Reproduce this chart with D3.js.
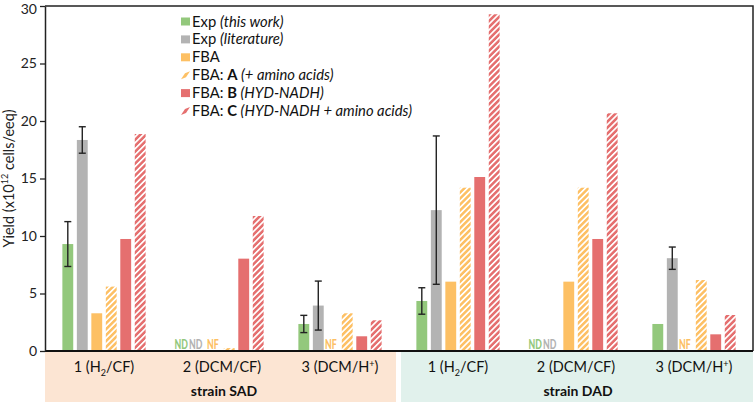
<!DOCTYPE html>
<html><head><meta charset="utf-8">
<script src="https://cdn.jsdelivr.net/npm/d3@7"></script>
<style>
html,body{margin:0;padding:0;background:#fff;}
svg{display:block;font-family:Lato,"Open Sans",sans-serif;}
</style></head>
<body>
<svg id="chart" width="755" height="402"></svg>
<script>
// ---- data ----
const groups = ["SAD-1","SAD-2","SAD-3","DAD-1","DAD-2","DAD-3"];
const groupLabels = [["1 (H","2","/CF)","sub"],["2 (DCM/CF)","","",""],["3 (DCM/H","+",")","sup"],
                     ["1 (H","2","/CF)","sub"],["2 (DCM/CF)","","",""],["3 (DCM/H","+",")","sup"]];
const strains = ["strain SAD","strain DAD"];
const seriesKeys = ["expThis","expLit","fba","fbaA","fbaB","fbaC"];
const expThis    = [9.3, null, 2.35, 4.35, null, 2.35];
const expThisErr = [1.95, null, 0.75, 1.15, null, 0];
const expLit     = [18.35, null, 3.95, 12.25, null, 8.07];
const expLitErr  = [1.15, null, 2.13, 6.45, null, 0.97];
const fba        = [3.28, null, null, 6.03, 6.03, null];
const fbaA       = [5.6, 0.25, 3.28, 14.2, 14.2, 6.17];
const fbaB       = [9.74, 8.03, 1.28, 15.13, 9.74, 1.45];
const fbaC       = [18.87, 11.74, 2.67, 29.28, 20.67, 3.13];
const notes = { expThis:["","ND","","","ND",""], expLit:["","ND","","","ND",""], fba:["","NF","NF","","","NF"] };
const yTicks = [0,5,10,15,20,25,30];

const seriesValues = {expThis, expLit, fba, fbaA, fbaB, fbaC};
const seriesErr = {expThis: expThisErr, expLit: expLitErr};
const colors = {expThis:"#93c87c", expLit:"#b3b3b3", fba:"#fdc064", fbaA:"#fdc064", fbaB:"#e56f6f", fbaC:"#e56f6f"};
const hatched = {fbaA:true, fbaC:true};
const legendItems = [
  {key:"expThis", parts:[["Exp ",""],["(this work)","i"]]},
  {key:"expLit", parts:[["Exp ",""],["(literature)","i"]]},
  {key:"fba", parts:[["FBA",""]]},
  {key:"fbaA", parts:[["FBA: ",""],["A","b"],[" (+ amino acids)","i"]]},
  {key:"fbaB", parts:[["FBA: ",""],["B","b"],[" (HYD-NADH)","i"]]},
  {key:"fbaC", parts:[["FBA: ",""],["C","b"],[" (HYD-NADH + amino acids)","i"]]}
];

// ---- layout ----
const svg = d3.select("#chart");
const L = 45, R = 753, T = 6, B = 351;
const x0 = d3.scaleBand().domain(groups).range([L, R]).paddingInner(0).paddingOuter(0);
const x1 = d3.scaleBand().domain(seriesKeys).range([0, x0.bandwidth()]).paddingInner(0.25).paddingOuter(1.2);
const y = d3.scaleLinear().domain([0, 30]).range([B, T]);

// patterns
const defs = svg.append("defs");
["fbaA","fbaC"].forEach(k=>{
  const p = defs.append("pattern").attr("id","hatch-"+k).attr("patternUnits","userSpaceOnUse")
    .attr("width",4.2).attr("height",4.2).attr("patternTransform","rotate(45)");
  p.append("rect").attr("width",4.2).attr("height",4.2).attr("fill",colors[k]);
  p.append("rect").attr("x",0).attr("width",1.7).attr("height",4.2).attr("fill","#fff");
});

// bottom bands
const bandData = [{s:strains[0], g:groups.slice(0,3), fill:"#fce5d3"},{s:strains[1], g:groups.slice(3), fill:"#e1f1ec"}];
bandData.forEach((b,i)=>{
  const x_a = x0(b.g[0]) + (i===0?0:2);
  const x_b = x0(b.g[2]) + x0.bandwidth() - (i===0?3:0);
  svg.append("rect").attr("x",x_a).attr("y",B).attr("width",x_b-x_a).attr("height",402-B).attr("fill",b.fill);
  svg.append("text").attr("x",(x0(b.g[0])+x0(b.g[2])+x0.bandwidth())/2 + 2).attr("y",396)
    .attr("text-anchor","middle").attr("font-size",14).attr("font-weight","bold").attr("fill","#111").text(b.s);
});

// group labels
groups.forEach((g,i)=>{
  const lab = groupLabels[i];
  const t = svg.append("text").attr("x", x0(g)+x0.bandwidth()/2).attr("y",372)
    .attr("text-anchor","middle").attr("font-size",14.5).attr("fill","#111");
  t.append("tspan").text(lab[0]);
  if (lab[1]) {
    t.append("tspan").attr("font-size",9).attr("dy", lab[3]==="sub"?4:-5).text(lab[1]);
    t.append("tspan").attr("dy", lab[3]==="sub"?-4:5).text(lab[2]);
  }
});

// bars
const gGroups = svg.append("g").selectAll("g").data(groups).join("g")
  .attr("transform", d=>`translate(${x0(d)},0)`);
seriesKeys.forEach(k=>{
  gGroups.each(function(g,i){
    const v = seriesValues[k][i];
    if (v==null) return;
    d3.select(this).append("rect")
      .attr("x", x1(k)).attr("width", x1.bandwidth())
      .attr("y", y(v)).attr("height", y(0)-y(v))
      .attr("fill", hatched[k] ? `url(#hatch-${k})` : colors[k]);
  });
});
// error bars
Object.keys(seriesErr).forEach(k=>{
  gGroups.each(function(g,i){
    const v = seriesValues[k][i], e = seriesErr[k][i];
    if (v==null || !e) return;
    const cx = x1(k)+x1.bandwidth()/2;
    const gg = d3.select(this).append("g").attr("stroke","#222").attr("stroke-width",1.4);
    gg.append("line").attr("x1",cx).attr("x2",cx).attr("y1",y(v+e)).attr("y2",y(v-e));
    gg.append("line").attr("x1",cx-3.5).attr("x2",cx+3.5).attr("y1",y(v+e)).attr("y2",y(v+e));
    gg.append("line").attr("x1",cx-3.5).attr("x2",cx+3.5).attr("y1",y(v-e)).attr("y2",y(v-e));
  });
});
// ND / NF notes (condensed via horizontal scaling)
Object.keys(notes).forEach(k=>{
  gGroups.each(function(g,i){
    const n = notes[k][i];
    if (!n) return;
    const cx = x1(k)+x1.bandwidth()/2 + (n==="ND"?-4.5:-2);
    d3.select(this).append("g").attr("transform",`translate(${cx},${B-2.5}) scale(0.7,1)`)
      .append("text").attr("x",0).attr("y",0).attr("text-anchor","middle")
      .attr("font-size",12.5).attr("font-weight","900").attr("fill",colors[k]).text(n);
  });
});

// frame
svg.append("path").attr("d",`M${L},${T}H${R}V${B}`).attr("fill","none").attr("stroke","#222").attr("stroke-width",1.5);
svg.append("line").attr("x1",L).attr("x2",R).attr("y1",B).attr("y2",B).attr("stroke","#111").attr("stroke-width",1.8);

// y axis
const ax = svg.append("g").attr("transform",`translate(${L},0)`)
  .call(d3.axisLeft(y).tickValues(yTicks).tickSize(5).tickSizeOuter(0).tickPadding(3));
ax.select(".domain").attr("stroke","#222").attr("stroke-width",1.5);
ax.selectAll(".tick line").attr("stroke","#222").attr("stroke-width",1.3);
ax.selectAll(".tick text").attr("font-size",14).attr("fill","#222").attr("font-family","Lato,sans-serif");
ax.selectAll(".tick text").filter(d=>d===30).attr("dy","0.5em");

// y title
const yt = svg.append("text").attr("transform",`translate(14,${(T+B)/2}) rotate(-90)`)
  .attr("text-anchor","middle").attr("font-size",14.5).attr("fill","#222");
yt.append("tspan").text("Yield (x10");
yt.append("tspan").attr("font-size",9).attr("dy",-6).text("12");
yt.append("tspan").attr("dy",6).text(" cells/eeq)");

// legend
const lg = svg.append("g").attr("transform","translate(181,0)");
legendItems.forEach((it,i)=>{
  const cy = 21.5 + i*17.9;
  if (hatched[it.key]) {
    lg.append("path").attr("d",`M0,${cy+4}L4,${cy-2}L9,${cy-4}L5,${cy+2}Z`).attr("fill",colors[it.key]);
  } else {
    lg.append("rect").attr("x",0).attr("y",cy-4).attr("width",9).attr("height",8).attr("fill",colors[it.key]);
  }
  const t = lg.append("text").attr("x",11).attr("y",cy+5).attr("font-size",14.8).attr("fill","#111");
  it.parts.forEach(p=>{
    const s = t.append("tspan").text(p[0]);
    if (p[1]==="i") s.attr("font-style","italic");
    if (p[1]==="b") s.attr("font-weight","bold");
  });
});
</script>
</body></html>
